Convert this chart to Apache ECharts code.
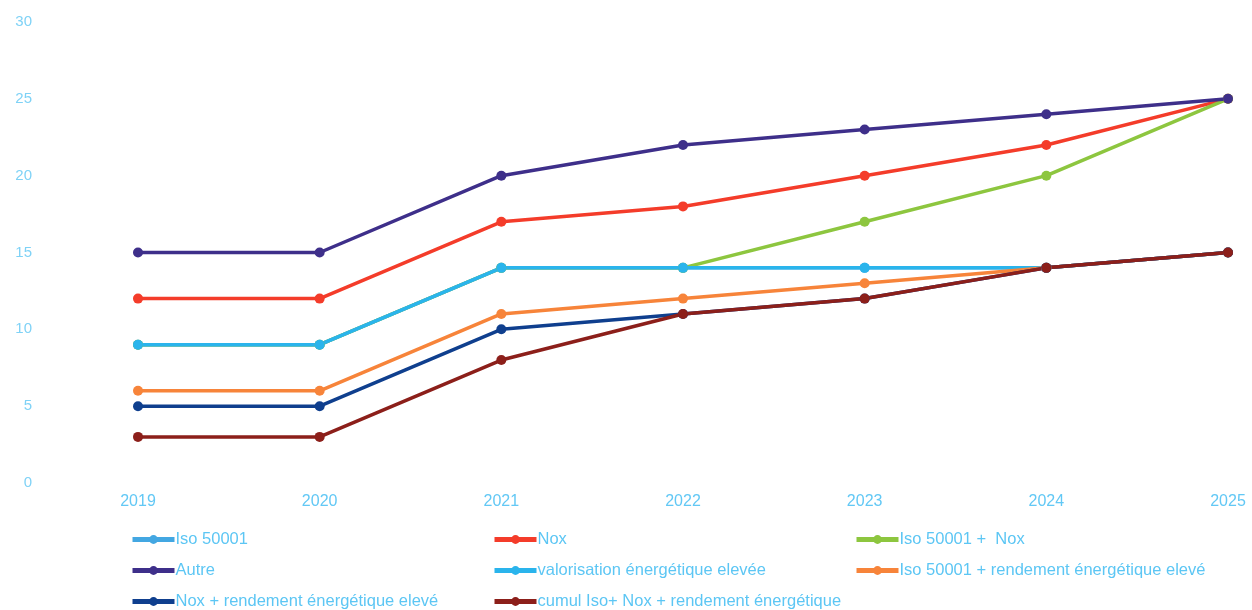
<!DOCTYPE html>
<html><head><meta charset="utf-8">
<script src="https://cdn.jsdelivr.net/npm/echarts@6/dist/echarts.min.js"></script>
<style>html,body{margin:0;padding:0;background:#fff}#c{width:1252px;height:610px}</style>
</head><body><div id="c"></div>
<script>
const years = ['2019','2020','2021','2022','2023','2024','2025'];
const iso50001 = [9,9,14,14,14,14,15];
const nox = [12,12,17,18,20,22,25];
const isoNox = [9,9,14,14,17,20,25];
const autre = [15,15,20,22,23,24,25];
const valorisation = [9,9,14,14,14,14,15];
const isoRendement = [6,6,11,12,13,14,15];
const noxRendement = [5,5,10,11,12,14,15];
const cumul = [3,3,8,11,12,14,15];

const names = ['Iso 50001','Nox','Iso 50001 +  Nox','Autre','valorisation énergétique elevée','Iso 50001 + rendement énergétique elevé','Nox + rendement énergétique elevé','cumul Iso+ Nox + rendement énergétique'];
const datas = [iso50001,nox,isoNox,autre,valorisation,isoRendement,noxRendement,cumul];
const colors = ['#43a7e2','#f43c2a','#8dc63f','#3e2f8a','#2ab4ec','#f7843a','#0f3f8e','#8c1f1a'];

const font = 'Liberation Sans, Arial, sans-serif';
const legendText = {color:'#5cc6f4', fontSize:16.5, lineHeight:19, fontFamily:font, padding:[0,0,0,-4]};
function legend(items, left){
  return {data:items, orient:'vertical', left:left, top:525, height:120, itemGap:12, itemWidth:42, itemHeight:11,
    textStyle:legendText, lineStyle:{width:5}, selectedMode:false};
}
const chart = echarts.init(document.getElementById('c'), null, {renderer:'canvas'});
chart.setOption({
  animation:false,
  color:colors,
  grid:{left:138, right:24, top:22, bottom:127},
  legend:[
    legend([names[0],names[3],names[6]], 125),
    legend([names[1],names[4],names[7]], 487),
    legend([names[2],names[5]], 849)
  ],
  xAxis:{type:'category', data:years, boundaryGap:false,
    axisLine:{show:false}, axisTick:{show:false}, splitLine:{show:false},
    axisLabel:{color:'#62c8f5', fontSize:16, fontFamily:font, margin:11}},
  yAxis:{type:'value', min:0, max:30, interval:5,
    axisLine:{show:false}, axisTick:{show:false}, splitLine:{show:false},
    axisLabel:{color:'#7fd2f6', fontSize:15, fontFamily:font, margin:106}},
  series: names.map((n,i)=>({name:n, type:'line', data:datas[i], symbol:'circle', symbolSize:10,
    lineStyle:{width:3.5, color:colors[i]}, itemStyle:{color:colors[i]}}))
});
</script></body></html>
